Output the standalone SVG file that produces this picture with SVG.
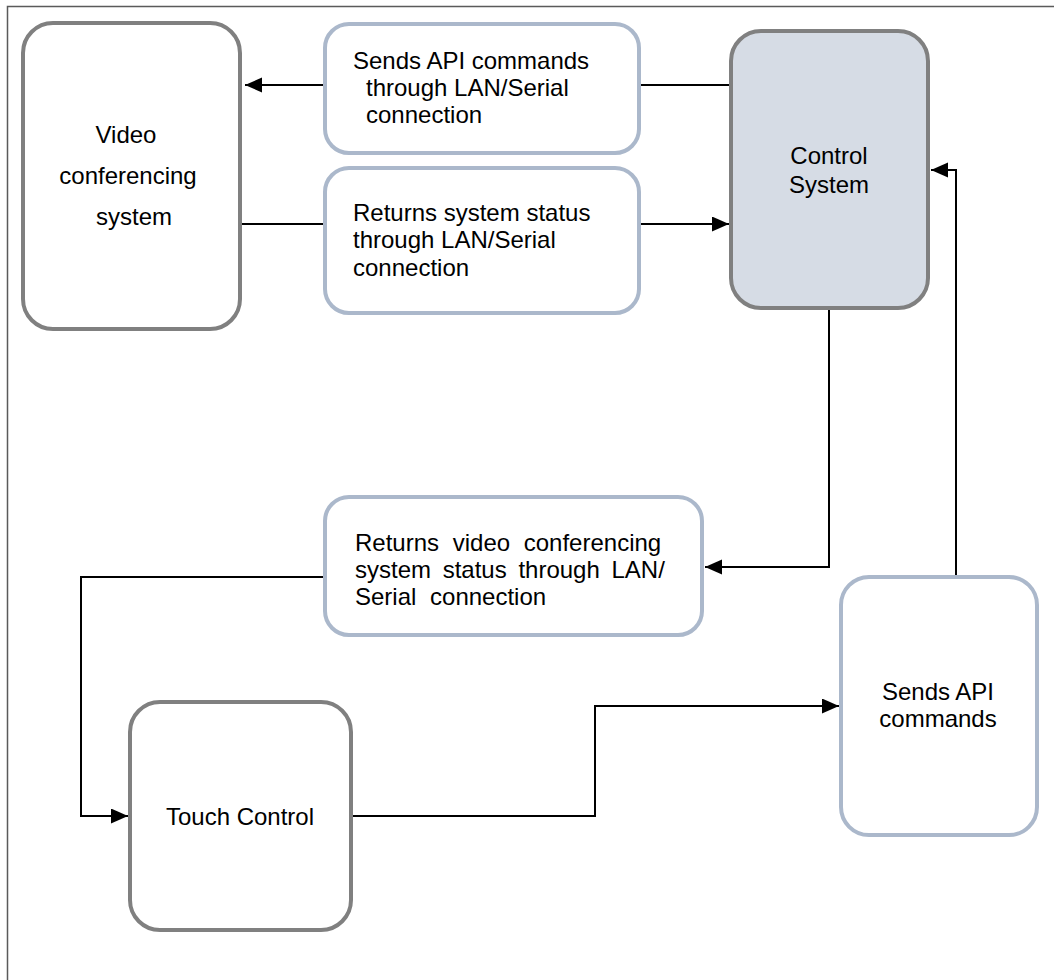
<svg xmlns="http://www.w3.org/2000/svg" width="1054" height="980" viewBox="0 0 1054 980">
<style>
.gray{fill:#ffffff;stroke:#808080;stroke-width:4}
.blue{fill:#ffffff;stroke:#abb8cb;stroke-width:4}
.ctrl{fill:#d6dce5;stroke:#808080;stroke-width:4}
text{font-family:"Liberation Sans",Arial,sans-serif;font-size:24px;fill:#000}
.mid{text-anchor:middle}
.conn path{fill:none;stroke:#000;stroke-width:2}
</style>
<defs>
<marker id="arr" markerUnits="userSpaceOnUse" markerWidth="18" markerHeight="16" refX="17" refY="7.5" orient="auto">
<path d="M0,0 L17,7.5 L0,15 z" fill="#000"/>
</marker>
</defs>
<rect width="1054" height="980" fill="#ffffff"/>
<path d="M7.5,980 V6.5 H1054" fill="none" stroke="#5a5a5a" stroke-width="1.5"/>
<g class="conn" id="connectors">
<path d="M729,85 H641"/>
<path d="M323,85 H245" marker-end="url(#arr)"/>
<path d="M242,224 H323"/>
<path d="M641,224 H729" marker-end="url(#arr)"/>
<path d="M829,310 V567 H705" marker-end="url(#arr)"/>
<path d="M323,577 H81 V816 H128" marker-end="url(#arr)"/>
<path d="M353,816 H595 V706 H839" marker-end="url(#arr)"/>
<path d="M956,575 V170 H931" marker-end="url(#arr)"/>
</g>
<g id="video-conferencing">
<rect class="gray" x="23" y="23" width="217" height="306" rx="30"/>
<text class="mid" x="126" y="143">Video</text>
<text class="mid" x="128" y="184">conferencing</text>
<text class="mid" x="134" y="225">system</text>
</g>
<g id="sends-api-lan">
<rect class="blue" x="325" y="24" width="314" height="129" rx="24"/>
<text x="353" y="69">Sends API commands</text>
<text x="366" y="96">through LAN/Serial</text>
<text x="366" y="123">connection</text>
</g>
<g id="returns-status">
<rect class="blue" x="325" y="168" width="314" height="145" rx="24"/>
<text x="353" y="221">Returns system status</text>
<text x="353" y="248">through LAN/Serial</text>
<text x="353" y="276">connection</text>
</g>
<g id="control-system">
<rect class="ctrl" x="731" y="31" width="197" height="277" rx="30"/>
<text class="mid" x="829" y="164">Control</text>
<text class="mid" x="829" y="193">System</text>
</g>
<g id="returns-vc-status">
<rect class="blue" x="325" y="497" width="377" height="138" rx="24"/>
<text x="355" y="551" word-spacing="7">Returns video conferencing</text>
<text x="355" y="578" word-spacing="5">system status through LAN/</text>
<text x="355" y="605" word-spacing="7">Serial connection</text>
</g>
<g id="touch-control">
<rect class="gray" x="130" y="702" width="221" height="228" rx="30"/>
<text class="mid" x="240" y="825">Touch Control</text>
</g>
<g id="sends-api-commands">
<rect class="blue" x="841" y="577" width="196" height="258" rx="28"/>
<text class="mid" x="938" y="700">Sends API</text>
<text class="mid" x="938" y="727">commands</text>
</g>
</svg>
